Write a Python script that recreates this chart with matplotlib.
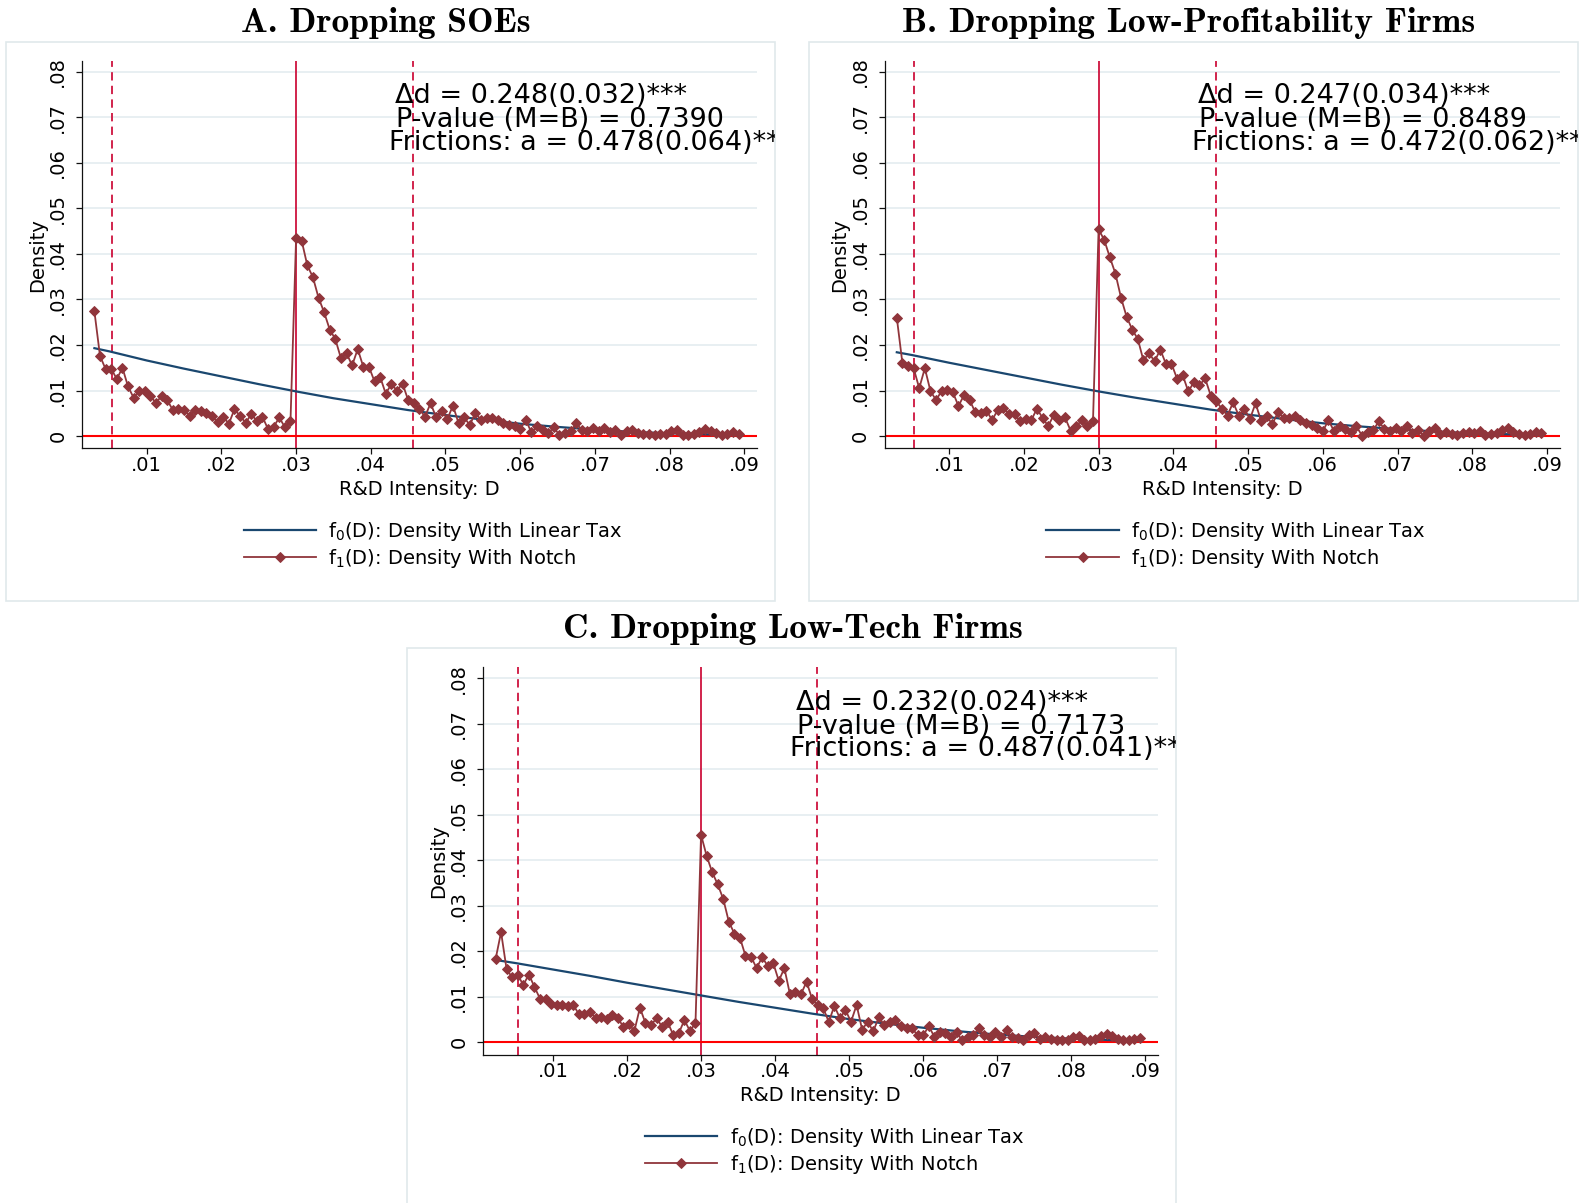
import numpy as np
import matplotlib
matplotlib.use('Agg')
import matplotlib.pyplot as plt
from matplotlib.lines import Line2D
from matplotlib.patches import Rectangle
from matplotlib.transforms import Bbox, TransformedBbox

plt.rcParams['font.family'] = ['DejaVu Sans']
plt.rcParams['mathtext.fontset'] = 'dejavusans'
plt.rcParams['lines.scale_dashes'] = False

# ---------------- data ----------------
bin_width = 0.00075
ab_first_bin = 0.003
c_first_bin = 0.00225

notch_A = [0.0274, 0.0176, 0.0147, 0.0148, 0.0125, 0.0150, 0.0109, 0.0084, 0.0099, 0.0099,
           0.0087, 0.0073, 0.0088, 0.0079, 0.0057, 0.0060, 0.0057, 0.0045, 0.0057, 0.0056,
           0.0050, 0.0043, 0.0031, 0.0042, 0.0027, 0.0059, 0.0044, 0.0029, 0.0048, 0.0033,
           0.0042, 0.0015, 0.0020, 0.0041, 0.0019, 0.0033, 0.0435, 0.0429, 0.0375, 0.0349,
           0.0304, 0.0272, 0.0234, 0.0213, 0.0171, 0.0182, 0.0155, 0.0191, 0.0152, 0.0152,
           0.0120, 0.0130, 0.0093, 0.0114, 0.0100, 0.0115, 0.0079, 0.0072, 0.0060, 0.0042,
           0.0072, 0.0041, 0.0056, 0.0037, 0.0067, 0.0028, 0.0041, 0.0024, 0.0051, 0.0035,
           0.0039, 0.0039, 0.0035, 0.0029, 0.0024, 0.0021, 0.0015, 0.0035, 0.0008, 0.0021,
           0.0013, 0.0006, 0.0019, 0.0002, 0.0006, 0.0010, 0.0028, 0.0013, 0.0011, 0.0018,
           0.0010, 0.0018, 0.0008, 0.0013, 0.0002, 0.0010, 0.0013, 0.0006, 0.0004, 0.0004,
           0.0002, 0.0004, 0.0004, 0.0010, 0.0013, 0.0002, 0.0002, 0.0004, 0.0008, 0.0015,
           0.0010, 0.0006, 0.0002, 0.0004, 0.0008, 0.0004]

notch_B = [0.0260, 0.0160, 0.0153, 0.0149, 0.0105, 0.0149, 0.0099, 0.0079, 0.0099, 0.0101,
           0.0096, 0.0066, 0.0090, 0.0079, 0.0052, 0.0051, 0.0056, 0.0035, 0.0057, 0.0061,
           0.0049, 0.0049, 0.0032, 0.0038, 0.0035, 0.0060, 0.0040, 0.0022, 0.0046, 0.0035,
           0.0041, 0.0012, 0.0021, 0.0035, 0.0023, 0.0032, 0.0454, 0.0431, 0.0393, 0.0357,
           0.0304, 0.0262, 0.0234, 0.0213, 0.0166, 0.0182, 0.0164, 0.0190, 0.0159, 0.0159,
           0.0126, 0.0134, 0.0098, 0.0118, 0.0111, 0.0127, 0.0089, 0.0076, 0.0060, 0.0045,
           0.0074, 0.0045, 0.0060, 0.0037, 0.0072, 0.0033, 0.0043, 0.0026, 0.0052, 0.0040,
           0.0040, 0.0045, 0.0035, 0.0029, 0.0024, 0.0018, 0.0010, 0.0035, 0.0011, 0.0023,
           0.0015, 0.0008, 0.0021, 0.0001, 0.0008, 0.0013, 0.0032, 0.0015, 0.0010, 0.0018,
           0.0011, 0.0022, 0.0006, 0.0013, 0.0001, 0.0010, 0.0017, 0.0004, 0.0008, 0.0004,
           0.0002, 0.0006, 0.0008, 0.0006, 0.0011, 0.0002, 0.0004, 0.0006, 0.0013, 0.0017,
           0.0008, 0.0004, 0.0002, 0.0005, 0.0008, 0.0006]

notch_C = [0.0182, 0.0242, 0.0160, 0.0143, 0.0148, 0.0126, 0.0149, 0.0122, 0.0096, 0.0096,
           0.0084, 0.0081, 0.0082, 0.0080, 0.0082, 0.0062, 0.0062, 0.0066, 0.0054, 0.0056,
           0.0051, 0.0060, 0.0054, 0.0034, 0.0040, 0.0025, 0.0076, 0.0042, 0.0037, 0.0054,
           0.0033, 0.0044, 0.0016, 0.0020, 0.0049, 0.0025, 0.0042, 0.0456, 0.0410, 0.0374,
           0.0347, 0.0315, 0.0265, 0.0239, 0.0230, 0.0190, 0.0188, 0.0163, 0.0187, 0.0168,
           0.0174, 0.0135, 0.0163, 0.0106, 0.0110, 0.0106, 0.0133, 0.0095, 0.0081, 0.0075,
           0.0045, 0.0080, 0.0053, 0.0071, 0.0045, 0.0082, 0.0028, 0.0045, 0.0024, 0.0055,
           0.0038, 0.0044, 0.0049, 0.0036, 0.0031, 0.0031, 0.0015, 0.0015, 0.0036, 0.0012,
           0.0023, 0.0020, 0.0011, 0.0023, 0.0004, 0.0011, 0.0015, 0.0031, 0.0015, 0.0011,
           0.0023, 0.0011, 0.0026, 0.0011, 0.0009, 0.0004, 0.0015, 0.0020, 0.0007, 0.0011,
           0.0007, 0.0004, 0.0006, 0.0006, 0.0011, 0.0013, 0.0004, 0.0004, 0.0007, 0.0013,
           0.0018, 0.0013, 0.0007, 0.0004, 0.0005, 0.0007, 0.0009]

f0_x = [0.003, 0.005, 0.01, 0.015, 0.02, 0.025, 0.03, 0.035, 0.04, 0.045,
        0.05, 0.055, 0.06, 0.065, 0.07, 0.075, 0.08, 0.087]
f0_A = [0.0193, 0.0186, 0.0166, 0.0148, 0.0131, 0.0114, 0.0098, 0.0083, 0.0070, 0.0057,
        0.0046, 0.0036, 0.0027, 0.0020, 0.0014, 0.0009, 0.0006, 0.0003]
f0_B = [0.0184, 0.0178, 0.0161, 0.0145, 0.0129, 0.0113, 0.0098, 0.0084, 0.0071, 0.0058,
        0.0047, 0.0037, 0.0028, 0.0021, 0.0015, 0.0010, 0.0006, 0.0003]
f0_C = [0.0179, 0.0174, 0.0160, 0.0146, 0.0131, 0.0117, 0.0103, 0.0089, 0.0076, 0.0063,
        0.0051, 0.0041, 0.0032, 0.0024, 0.0017, 0.0012, 0.0008, 0.0004]

x_ticks = [0.01, 0.02, 0.03, 0.04, 0.05, 0.06, 0.07, 0.08, 0.09]
x_tick_labels = ['.01', '.02', '.03', '.04', '.05', '.06', '.07', '.08', '.09']
y_ticks = [0.0, 0.01, 0.02, 0.03, 0.04, 0.05, 0.06, 0.07, 0.08]
y_tick_labels = ['0', '.01', '.02', '.03', '.04', '.05', '.06', '.07', '.08']

lower_bound = 0.0053
notch_point = 0.03
upper_bound = 0.0457

titles = ['A. Dropping SOEs', 'B. Dropping Low-Profitability Firms', 'C. Dropping Low-Tech Firms']
annot_A = ['\u0394d = 0.248(0.032)***', 'P-value (M=B) = 0.7390', 'Frictions: a = 0.478(0.064)***']
annot_B = ['\u0394d = 0.247(0.034)***', 'P-value (M=B) = 0.8489', 'Frictions: a = 0.472(0.062)***']
annot_C = ['\u0394d = 0.232(0.024)***', 'P-value (M=B) = 0.7173', 'Frictions: a = 0.487(0.041)***']
legend_labels = ['f$_0$(D): Density With Linear Tax', 'f$_1$(D): Density With Notch']
x_label = 'R&D Intensity: D'
y_label = 'Density'

# ---------------- style ----------------
NAVY = '#1a476f'
MAROON = '#90353b'
CRAN = '#ce123e'
ZERO_RED = '#ff0000'
GRID = '#e6eef1'
BOX = '#e0e9eb'
MS = 4.9

W, H = 1585, 1203
fig = plt.figure(figsize=(W / 100, H / 100), dpi=100)
fig.patch.set_facecolor('white')


def fx(x):
    return x / W


def fy(y):
    return 1 - y / H


panels = [
    dict(title=titles[0], vals=notch_A, first=ab_first_bin, f0=f0_A, annot=annot_A,
         dx=0.0, dy=0.0, tcx=386.0, xleft=0.00138),
    dict(title=titles[1], vals=notch_B, first=ab_first_bin, f0=f0_B, annot=annot_B,
         dx=802.7, dy=0.0, tcx=1188.5, xleft=0.00142),
    dict(title=titles[2], vals=notch_C, first=c_first_bin, f0=f0_C, annot=annot_C,
         dx=401.0, dy=606.3, tcx=792.5, xleft=0.0006),
]

for p in panels:
    dx, dy = p['dx'], p['dy']
    # panel box
    fig.add_artist(Rectangle((fx(6 + dx), fy(600.7 + dy)), 769 / W, 559 / H,
                             transform=fig.transFigure, fill=False, ec=BOX, lw=1.2))
    clip = TransformedBbox(Bbox.from_extents(fx(6 + dx), fy(600.7 + dy), fx(775 + dx), fy(41.7 + dy)),
                           fig.transFigure)

    ax = fig.add_axes([fx(82.3 + dx), fy(448.3 + dy), 674.7 / W, 387.3 / H])
    vals = np.array(p['vals'])
    xb = p['first'] + bin_width * np.arange(len(vals))

    ax.plot(f0_x, p['f0'], color=NAVY, lw=1.6, zorder=3)
    ax.plot(xb, vals, color=MAROON, lw=1.3, marker='D', ms=MS, mec=MAROON, mfc=MAROON,
            mew=0.7, zorder=4)
    ax.axvline(lower_bound, color=CRAN, lw=1.3, ls=(0, (6.0, 3.8)), zorder=2)
    ax.axvline(upper_bound, color=CRAN, lw=1.3, ls=(0, (6.0, 3.8)), zorder=2)
    ax.axvline(notch_point, color=CRAN, lw=1.3, zorder=2)
    ax.axhline(0, color=ZERO_RED, lw=1.5, zorder=2.5)

    ax.set_xlim(p['xleft'], 0.0917)
    ax.set_ylim(-0.0027, 0.0824)
    ax.set_xticks(x_ticks)
    ax.set_xticklabels(x_tick_labels)
    ax.set_yticks(y_ticks)
    ax.set_yticklabels(y_tick_labels)
    ax.grid(axis='y', color=GRID, lw=1.3)
    ax.set_axisbelow(True)
    for s in ['top', 'right']:
        ax.spines[s].set_visible(False)
    for s in ['left', 'bottom']:
        ax.spines[s].set_color('#111111')
        ax.spines[s].set_linewidth(0.9)
    ax.tick_params(axis='both', direction='out', length=4, width=0.9, color='#111111',
                   labelsize=14)
    ax.tick_params(axis='x', pad=1.5)
    ax.tick_params(axis='y', pad=13.6)
    for lab in ax.get_yticklabels():
        lab.set_rotation(90)
        lab.set_ha('center')
        lab.set_va('center')

    # title
    fig.text(fx(p['tcx']), fy(31.7 + dy), p['title'], family='cmb10', fontsize=25.5,
             ha='center', va='baseline')
    # axis labels
    fig.text(fx(37.4 + dx), fy(254.7 + dy), y_label, rotation=90, ha='center', va='center',
             fontsize=14)
    fig.text(fx(419.7 + dx), fy(489.3 + dy), x_label, ha='center', va='center', fontsize=14)

    # annotation
    offs = [(312.7, 42.3), (313.7, 66.3), (306.7, 89.0)]
    for s, (ox, oy) in zip(p['annot'], offs):
        t = fig.text(fx(82.3 + dx + ox), fy(61 + dy + oy), s, fontsize=19.5,
                     ha='left', va='baseline')
        t.set_clip_box(clip)
        t.set_clip_on(True)

    # legend
    rows = [529.7 + dy, 557.0 + dy]
    x0, x1 = fx(243.6 + dx), fx(316.4 + dx)
    fig.add_artist(Line2D([x0, x1], [fy(rows[0])] * 2, transform=fig.transFigure,
                          color=NAVY, lw=1.6))
    fig.add_artist(Line2D([x0, (x0 + x1) / 2, x1], [fy(rows[1])] * 3, transform=fig.transFigure,
                          color=MAROON, lw=1.3, marker='D', ms=MS, markevery=[1],
                          mec=MAROON, mfc=MAROON, mew=0.7))
    for r, lab in zip(rows, legend_labels):
        fig.text(fx(328.5 + dx), fy(r + 7.0), lab, fontsize=14, ha='left', va='baseline')

fig.savefig('out.png', dpi=100)
